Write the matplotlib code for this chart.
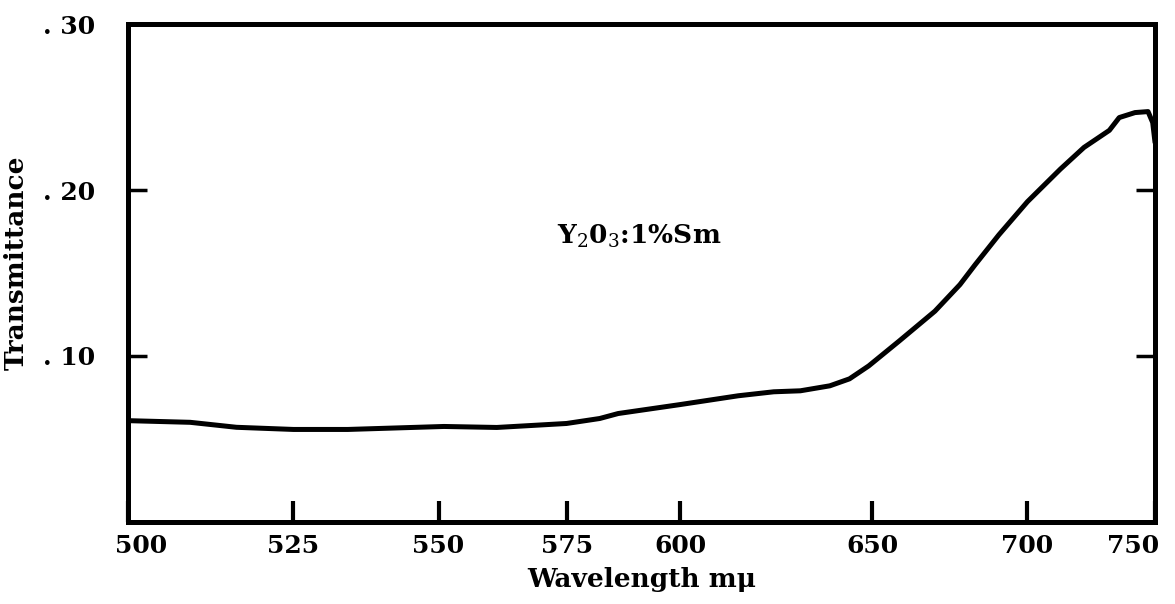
import matplotlib
matplotlib.use('Agg')
from matplotlib import pyplot as plt
import matplotlib.transforms as mtrans
import numpy as np

wavelength = [500, 509, 516, 525, 534, 551, 561, 575, 582, 586, 600, 614, 623, 630,
              638, 643.5, 649, 658, 669, 677, 682, 690, 700, 712, 721, 731, 735,
              741.5, 747, 749, 750]
transmittance = [0.061, 0.060, 0.057, 0.0557, 0.0557, 0.0575, 0.0569, 0.0593, 0.0623,
                 0.0653, 0.0707, 0.076, 0.0784, 0.079, 0.082, 0.0862, 0.094, 0.109,
                 0.127, 0.143, 0.155, 0.173, 0.193, 0.2126, 0.2257, 0.236, 0.2437,
                 0.2467, 0.2473, 0.2407, 0.2287]

x_ticks = [500, 525, 550, 575, 600, 650, 700, 750]
y_ticks = [0.10, 0.20, 0.30]
y_ticklabels = ['. 10', '. 20', '. 30']
sample = r'Y$_2$0$_3$:1%Sm'

plt.rcParams['font.family'] = 'DejaVu Serif'
plt.rcParams['mathtext.fontset'] = 'dejavuserif'


# the instrument's wavelength axis is not linear (compressed towards red)
def fwd(x):
    x = np.clip(np.asarray(x, dtype=float), 1.0, None)
    return -np.power(x, -1.75)


def inv(y):
    y = np.clip(-np.asarray(y, dtype=float), 1e-12, None)
    return np.power(y, -1 / 1.75)


fig = plt.figure(figsize=(11.75, 6.04), dpi=100)
ax = fig.add_axes([0.109, 0.136, 0.874, 0.824])
ax.set_xscale('function', functions=(fwd, inv))
ax.plot(wavelength, transmittance, color='black', lw=3.6, solid_capstyle='round')

ax.set_xlim(500, 750)
ax.set_ylim(0, 0.30)
ax.set_xticks(x_ticks)
ax.set_xticklabels([str(t) for t in x_ticks])
ax.xaxis.set_minor_locator(matplotlib.ticker.NullLocator())
ax.set_yticks(y_ticks)
ax.set_yticklabels(y_ticklabels)

for s in ax.spines.values():
    s.set_linewidth(3.6)
ax.tick_params(axis='x', direction='in', length=15, width=3, labelsize=18, pad=9)
ax.tick_params(axis='y', direction='in', length=14, width=2.5, labelsize=18, pad=24,
               right=True)
for lab in ax.get_xticklabels() + ax.get_yticklabels():
    lab.set_fontweight('bold')

# end labels sit inside the frame in the original
xl = ax.get_xticklabels()
xl[0].set_transform(xl[0].get_transform() + mtrans.ScaledTranslation(0.13, 0, fig.dpi_scale_trans))
xl[-1].set_transform(xl[-1].get_transform() + mtrans.ScaledTranslation(-0.22, 0, fig.dpi_scale_trans))

ax.set_xlabel('Wavelength m\u03bc', fontsize=19, fontweight='bold', labelpad=6)
ax.set_ylabel('Transmittance', fontsize=19, fontweight='bold')
ax.yaxis.set_label_coords(-0.097, 0.52)

ax.text(573, 0.172, sample, fontsize=19, fontweight='bold', ha='left', va='center')

fig.savefig('out.png', dpi=100)
